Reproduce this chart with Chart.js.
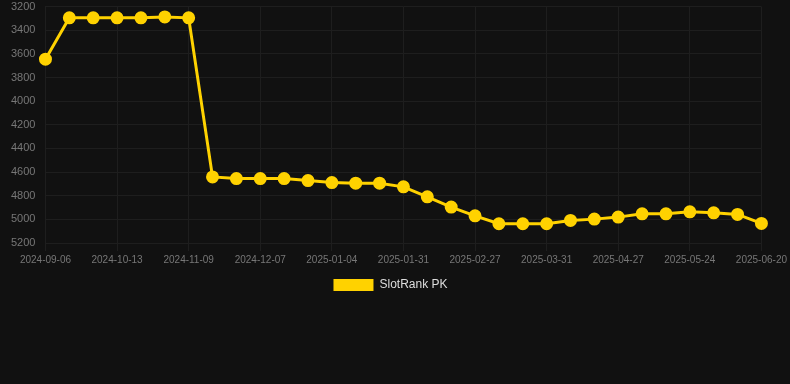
<!DOCTYPE html>
<html>
<head>
<meta charset="utf-8">
<script src="https://cdn.jsdelivr.net/npm/chart.js@4"></script>
<style>
  html, body { margin: 0; padding: 0; background: #111111; }
  #wrap { width: 790px; height: 301px; }
</style>
</head>
<body>
<div id="wrap"><canvas id="rank_canvas"></canvas></div>
<script>
const dates = [
    '2024-09-06', '2024-09-18', '2024-10-01', '2024-10-13', '2024-10-22', '2024-10-31',
    '2024-11-09', '2024-11-18', '2024-11-27', '2024-12-07', '2024-12-16', '2024-12-25',
    '2025-01-04', '2025-01-13', '2025-01-22', '2025-01-31', '2025-02-09', '2025-02-18',
    '2025-02-27', '2025-03-10', '2025-03-21', '2025-03-31', '2025-04-09', '2025-04-18',
    '2025-04-27', '2025-05-06', '2025-05-15', '2025-05-24', '2025-06-02', '2025-06-11',
    '2025-06-20'
];
const rankPK = [
    3645, 3295, 3295, 3295, 3295, 3287,
    3295, 4641, 4655, 4655, 4655, 4672,
    4689, 4694, 4694, 4725, 4809, 4896,
    4970, 5037, 5037, 5037, 5009, 4998,
    4981, 4953, 4953, 4936, 4945, 4958,
    5034
];
const yMin = 3200, yMax = 5200, yStep = 200;

const ctx_rank = document.getElementById('rank_canvas').getContext('2d');

Chart.defaults.font.family = 'Arial, "Liberation Sans", sans-serif';

// legend sits a bit left of centre in the original
const legendShift = {
    id: 'legendShift',
    afterLayout(chart) {
        chart.legend.left -= 10;
        chart.legend.right -= 10;
    }
};

const configRank = {
    type: 'line',
    data: {
        labels: dates,
        datasets: [{
            label: 'SlotRank PK',
            data: rankPK,
            borderColor: '#ffd200',
            backgroundColor: '#ffd200',
            borderWidth: 3,
            pointRadius: 5,
            pointHoverRadius: 6,
            pointBackgroundColor: '#ffd200',
            pointBorderColor: '#ffd200',
            tension: 0
        }]
    },
    options: {
        responsive: true,
        maintainAspectRatio: false,
        animation: false,
        layout: { autoPadding: false, padding: { left: 11 } },
        plugins: {
            legend: {
                position: 'bottom',
                labels: {
                    color: '#dddddd', font: { size: 12 }, boxWidth: 40, boxHeight: 12,
                    // no stroke round the legend box
                    generateLabels: (chart) => Chart.defaults.plugins.legend.labels.generateLabels(chart)
                        .map(l => ({ ...l, lineWidth: 0 }))
                }
            },
            tooltip: { enabled: false }
        },
        scales: {
            x: {
                grid: { color: '#1e1e1e', drawTicks: true, tickLength: 8 },
                border: { display: false },
                ticks: { color: '#777777', font: { size: 10 }, maxRotation: 0, autoSkip: true }
            },
            y: {
                reverse: true,
                min: yMin,
                max: yMax,
                // gap between labels and plot comes from an invisible tick mark
                grid: { color: '#1e1e1e', drawTicks: true, tickLength: 10, tickColor: 'transparent' },
                border: { display: false },
                ticks: { color: '#777777', font: { size: 11 }, stepSize: yStep, padding: 0, callback: (v) => String(v) }
            }
        }
    },
    plugins: [legendShift]
};

const chart_rank = new Chart(ctx_rank, configRank);
</script>
</body>
</html>
